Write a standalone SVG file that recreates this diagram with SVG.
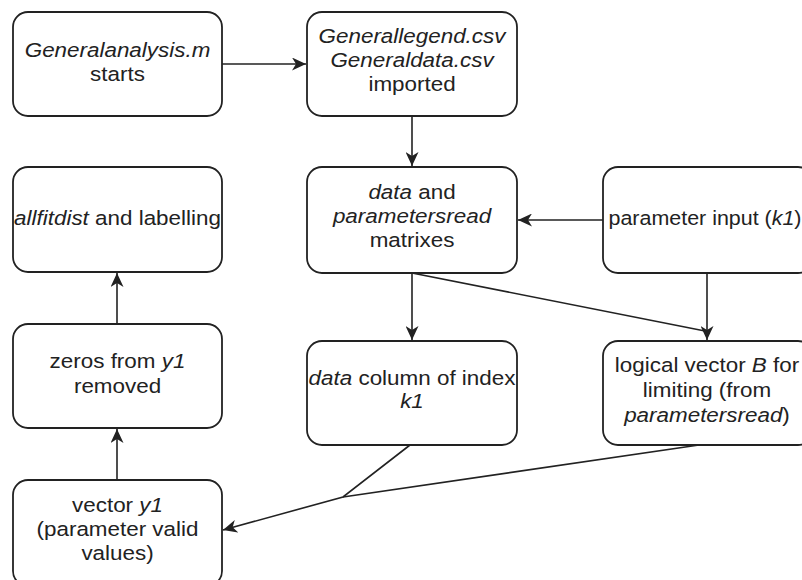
<svg xmlns="http://www.w3.org/2000/svg" width="802" height="580" viewBox="0 0 802 580">
<style>
.box{fill:#fff;stroke:#222;stroke-width:1.8}
.t{font-family:"Liberation Sans",Arial,sans-serif;font-size:19.5px;fill:#222;text-anchor:middle}
.i{font-style:italic}
.c{fill:none;stroke:#222;stroke-width:1.6}
</style>
<defs>
<marker id="ah" markerUnits="userSpaceOnUse" markerWidth="15" markerHeight="13" refX="14" refY="6.5" orient="auto">
<path d="M0,0 L14,6.5 L0,13 L4,6.5 Z" fill="#222"/>
</marker>
</defs>
<rect width="802" height="580" fill="#fff"/>
<g id="connectors">
<line class="c" x1="222" y1="64" x2="306" y2="64" marker-end="url(#ah)"/>
<line class="c" x1="412" y1="116" x2="412" y2="166" marker-end="url(#ah)"/>
<line class="c" x1="603" y1="220" x2="518" y2="220" marker-end="url(#ah)"/>
<line class="c" x1="412" y1="273" x2="412" y2="340" marker-end="url(#ah)"/>
<line class="c" x1="412" y1="273" x2="705" y2="331"/>
<line class="c" x1="707" y1="273" x2="707" y2="340" marker-end="url(#ah)"/>
<polyline class="c" points="410,445 343,497 223,530" marker-end="url(#ah)"/>
<line class="c" x1="699" y1="445" x2="343" y2="497"/>
<line class="c" x1="117" y1="480" x2="117" y2="429" marker-end="url(#ah)"/>
<line class="c" x1="117" y1="324" x2="117" y2="273" marker-end="url(#ah)"/>
</g>
<g id="n1">
<rect class="box" x="13" y="12" width="209" height="104" rx="15"/>
<g transform="translate(117.5 0) scale(1.15 1)"><text class="t"><tspan x="0" y="57" class="i">Generalanalysis.m</tspan><tspan x="0" y="81">starts</tspan></text></g>
</g>
<g id="n2">
<rect class="box" x="307" y="12" width="210" height="104" rx="15"/>
<g transform="translate(412 0) scale(1.15 1)"><text class="t"><tspan x="0" y="43" class="i">Generallegend.csv</tspan><tspan x="0" y="67" class="i">Generaldata.csv</tspan><tspan x="0" y="91">imported</tspan></text></g>
</g>
<g id="n3">
<rect class="box" x="307" y="167" width="210" height="106" rx="15"/>
<g transform="translate(412 0) scale(1.15 1)"><text class="t"><tspan x="0" y="199"><tspan class="i">data</tspan> and</tspan><tspan x="0" y="223" class="i">parametersread</tspan><tspan x="0" y="247">matrixes</tspan></text></g>
</g>
<g id="n4">
<rect class="box" x="603" y="167" width="210" height="106" rx="15"/>
<g transform="translate(705 0) scale(1.1 1)"><text class="t" y="225"><tspan x="0">parameter input (</tspan><tspan class="i">k1</tspan>)</text></g>
</g>
<g id="n5">
<rect class="box" x="13" y="167" width="209" height="105" rx="15"/>
<g transform="translate(117.5 0) scale(1.15 1)"><text class="t" y="225"><tspan x="0" class="i">allfitdist</tspan> and labelling</text></g>
</g>
<g id="n6">
<rect class="box" x="13" y="324" width="209" height="104" rx="15"/>
<g transform="translate(117.5 0) scale(1.15 1)"><text class="t"><tspan x="0" y="368">zeros from <tspan class="i">y1</tspan></tspan><tspan x="0" y="393">removed</tspan></text></g>
</g>
<g id="n7">
<rect class="box" x="307" y="341" width="210" height="104" rx="15"/>
<g transform="translate(412 0) scale(1.15 1)"><text class="t"><tspan x="0" y="385"><tspan class="i">data</tspan> column of index</tspan><tspan x="0" y="408" class="i">k1</tspan></text></g>
</g>
<g id="n8">
<rect class="box" x="603" y="341" width="210" height="104" rx="15"/>
<g transform="translate(707 0) scale(1.15 1)"><text class="t"><tspan x="0" y="372">logical vector <tspan class="i">B</tspan> for</tspan><tspan x="0" y="397">limiting (from</tspan><tspan x="0" y="422"><tspan class="i">parametersread</tspan>)</tspan></text></g>
</g>
<g id="n9">
<rect class="box" x="13" y="480" width="209" height="106" rx="15"/>
<g transform="translate(117.5 0) scale(1.15 1)"><text class="t"><tspan x="0" y="512">vector <tspan class="i">y1</tspan></tspan><tspan x="0" y="536">(parameter valid</tspan><tspan x="0" y="560">values)</tspan></text></g>
</g>
</svg>
